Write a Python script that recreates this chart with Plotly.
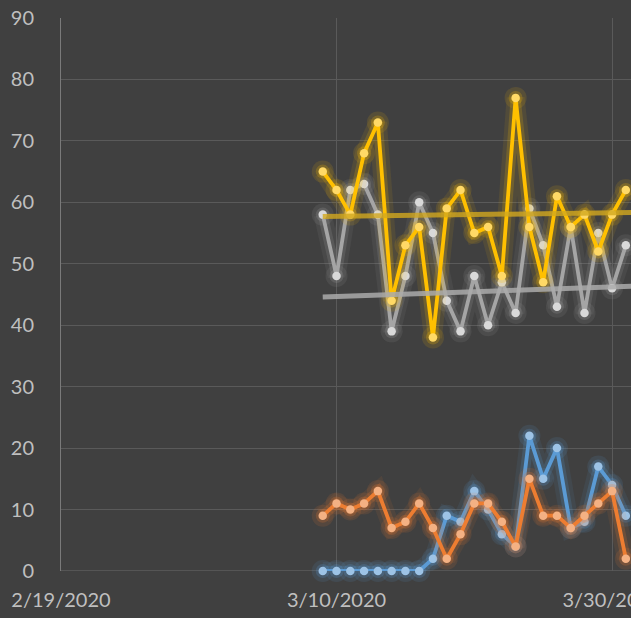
import pandas as pd
import plotly.graph_objects as go

# ---- data ----
start_date = "2020-03-09"
n_days = 23
dates = pd.date_range(start_date, periods=n_days, freq="D")

blue_vals = [0, 0, 0, 0, 0, 0, 0, 0, 2, 9, 8, 13, 10, 6, 4, 22, 15, 20, 7, 8, 17, 14, 9]
orange_vals = [9, 11, 10, 11, 13, 7, 8, 11, 7, 2, 6, 11, 11, 8, 4, 15, 9, 9, 7, 9, 11, 13, 2]
gray_vals = [58, 48, 62, 63, 58, 39, 48, 60, 55, 44, 39, 48, 40, 47, 42, 59, 53, 43, 56, 42, 55, 46, 53]
yellow_vals = [65, 62, 58, 68, 73, 44, 53, 56, 38, 59, 62, 55, 56, 48, 77, 56, 47, 61, 56, 58, 52, 58, 62]

trend_dates = ["2020-03-09", "2020-04-01"]
gray_trend = [44.6, 46.4]
yellow_trend = [57.7, 58.35]

x_start = "2020-02-19"
x_end = "2020-03-31 09:00"
y_ticks = [0, 10, 20, 30, 40, 50, 60, 70, 80, 90]

# ---- styles ----
series = [
    (blue_vals, "91,155,213", "#9DC3E6"),
    (orange_vals, "237,125,49", "#F4B183"),
    (gray_vals, "165,165,165", "#D9D9D9"),
    (yellow_vals, "255,192,0", "#FFD966"),
]

fig = go.Figure()
for vals, rgb, mcol in series:
    # glow layers
    fig.add_trace(go.Scatter(
        x=dates, y=vals, mode="lines+markers",
        line=dict(color=f"rgba({rgb},0.09)", width=18),
        marker=dict(size=22, color=f"rgba({rgb},0.12)"),
        hoverinfo="skip", showlegend=False, cliponaxis=False))
    fig.add_trace(go.Scatter(
        x=dates, y=vals, mode="lines+markers",
        line=dict(color=f"rgba({rgb},0.18)", width=10),
        marker=dict(size=14, color=f"rgba({rgb},0.22)"),
        hoverinfo="skip", showlegend=False, cliponaxis=False))
    fig.add_trace(go.Scatter(
        x=dates, y=vals, mode="lines+markers",
        line=dict(color=f"rgb({rgb})", width=3.8),
        marker=dict(size=8.5, color=mcol),
        showlegend=False, cliponaxis=False))

fig.add_trace(go.Scatter(
    x=trend_dates, y=gray_trend, mode="lines",
    line=dict(color="rgba(170,170,170,0.85)", width=5),
    showlegend=False))
fig.add_trace(go.Scatter(
    x=trend_dates, y=yellow_trend, mode="lines",
    line=dict(color="rgba(210,168,30,0.8)", width=5),
    showlegend=False))

font_col = "#BFBFBF"
fig.update_layout(
    width=631, height=618,
    paper_bgcolor="#404040", plot_bgcolor="#404040",
    margin=dict(l=61, r=0, t=18, b=47, autoexpand=False),
    font=dict(family="Lato, Open Sans, sans-serif", size=20, color=font_col),
    showlegend=False,
)
fig.update_xaxes(
    type="date", range=[x_start, x_end], automargin=False,
    tick0=x_start, dtick=20 * 86400000, tickformat="%-m/%-d/%Y",
    showgrid=True, gridcolor="#5A5A5A", gridwidth=1,
    showline=False, zeroline=False, ticks="", ticklabelstandoff=15,
    ticklabeloverflow="allow",
)
fig.update_yaxes(
    range=[0, 90], tickvals=y_ticks, automargin=False,
    showgrid=True, gridcolor="#5A5A5A", gridwidth=1,
    showline=True, linecolor="#7A7A7A", linewidth=1,
    zeroline=False, ticks="", ticklabelstandoff=22,
    ticklabeloverflow="allow",
)
# bottom axis line
fig.add_shape(type="line", xref="paper", yref="y", x0=0, x1=1, y0=0, y1=0,
              line=dict(color="#6A6A6A", width=1), layer="below")

fig.write_html(
    "out.html",
    config={"displayModeBar": False},
    post_script="document.body.style.margin='0';document.body.style.overflow='hidden';document.body.style.background='#404040';",
)
